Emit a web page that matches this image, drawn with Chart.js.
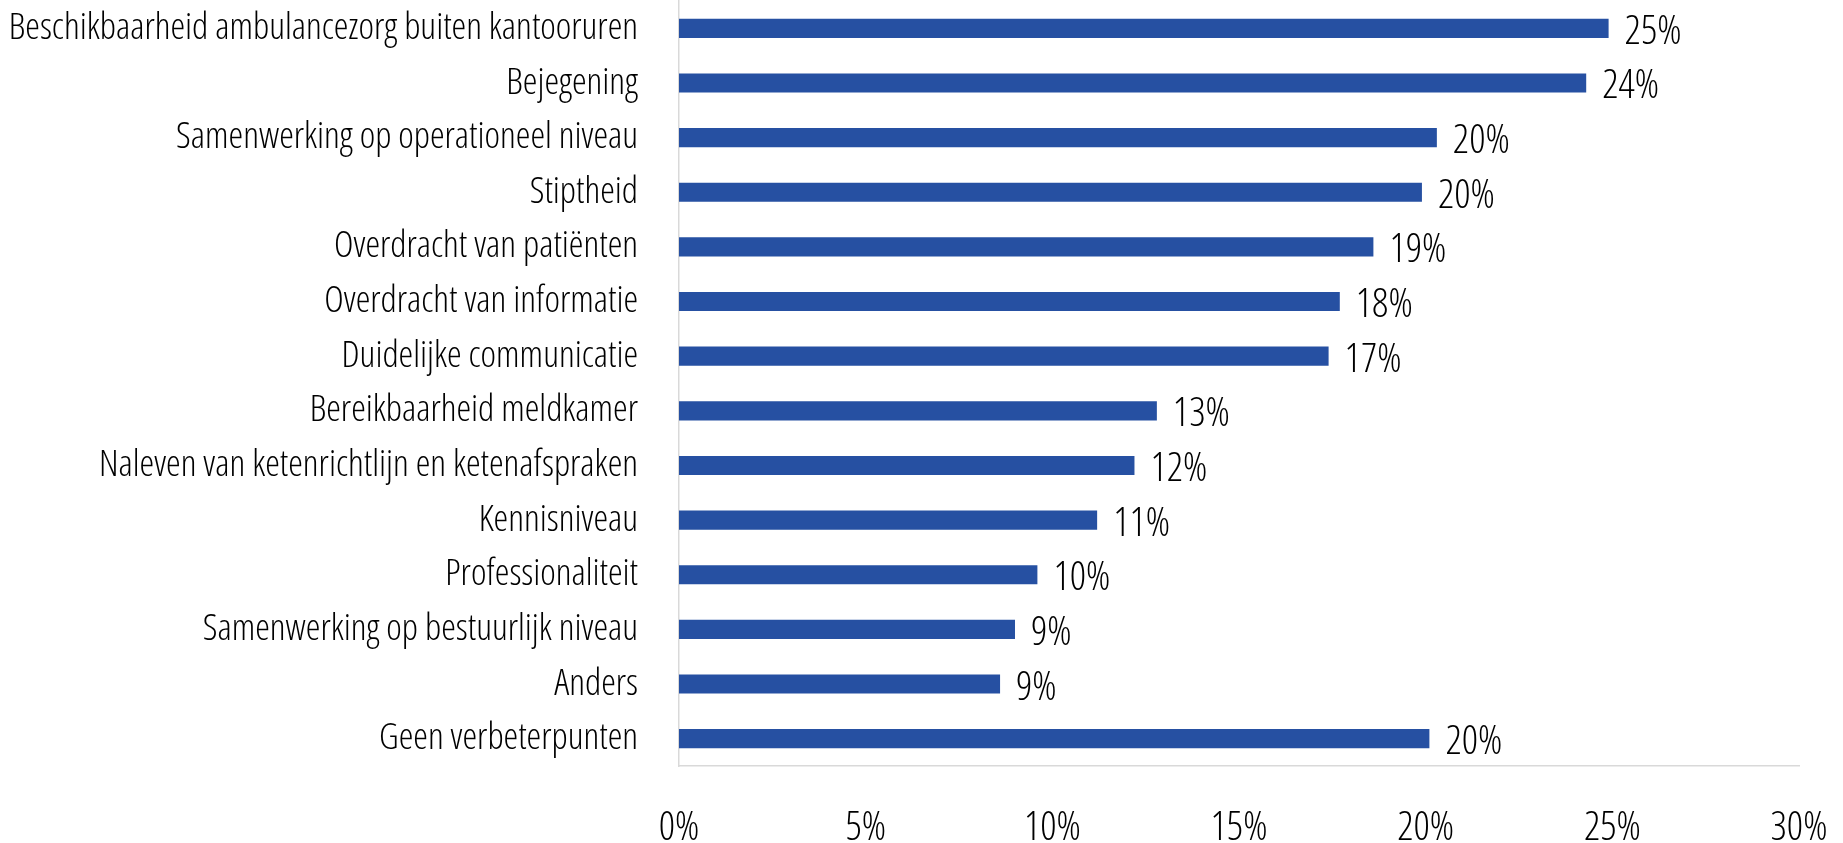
<!DOCTYPE html>
<html>
<head>
<meta charset="utf-8">
<title>Verbeterpunten</title>
<script src="https://cdn.jsdelivr.net/npm/chart.js@4"></script>
<style>
  body { margin: 0; background: #fff; }
</style>
</head>
<body>
<canvas id="barChart" width="1843" height="843"></canvas>
<script>
const categories = [
    "Beschikbaarheid ambulancezorg buiten kantooruren",
    "Bejegening",
    "Samenwerking op operationeel niveau",
    "Stiptheid",
    "Overdracht van patiënten",
    "Overdracht van informatie",
    "Duidelijke communicatie",
    "Bereikbaarheid meldkamer",
    "Naleven van ketenrichtlijn en ketenafspraken",
    "Kennisniveau",
    "Professionaliteit",
    "Samenwerking op bestuurlijk niveau",
    "Anders",
    "Geen verbeterpunten"
];
const percentages = [24.9, 24.3, 20.3, 19.9, 18.6, 17.7, 17.4, 12.8, 12.2, 11.2, 9.6, 9.0, 8.6, 20.1];
const axisTicks = [0, 5, 10, 15, 20, 25, 30];

const categoryFont = { family: "'Open Sans', sans-serif", size: 37, weight: "300 condensed" };
const numberFont = { family: "'Open Sans', sans-serif", size: 40, weight: "300 condensed" };

// percentage text right of each bar
const barLabels = {
    id: "barLabels",
    afterDatasetsDraw(chart) {
        const ctx = chart.ctx;
        const meta = chart.getDatasetMeta(0);
        ctx.save();
        ctx.font = Chart.helpers.toFont(numberFont).string;
        ctx.fillStyle = "#000";
        ctx.textAlign = "left";
        ctx.textBaseline = "alphabetic";
        meta.data.forEach(function (bar, i) {
            ctx.fillText(Math.round(percentages[i]) + "%", bar.x + 16, bar.y + 15.5);
        });
        ctx.restore();
    }
};

// fixed axis sizes, no extra label padding around the plot
function fixSize(width, height) {
    return function (scale) {
        if (width) scale.width = width;
        if (height) scale.height = height;
        scale.paddingTop = 0;
        scale.paddingBottom = 0;
        scale.paddingLeft = 0;
        scale.paddingRight = 0;
    };
}

new Chart(document.getElementById("barChart"), {
    type: "bar",
    data: {
        labels: categories,
        datasets: [{
            data: percentages,
            backgroundColor: "#2650a2",
            borderWidth: 0,
            categoryPercentage: 1,
            barPercentage: 0.35
        }]
    },
    options: {
        indexAxis: "y",
        responsive: false,
        animation: false,
        devicePixelRatio: 1,
        layout: { padding: { top: 1, right: 44, left: 0, bottom: 0 } },
        plugins: {
            legend: { display: false },
            tooltip: { enabled: false }
        },
        scales: {
            x: {
                min: 0,
                max: 30,
                afterBuildTicks: function (scale) {
                    scale.ticks = axisTicks.map(v => ({ value: v }));
                },
                afterFit: fixSize(0, 77),
                grid: { display: false, drawTicks: false },
                border: { display: true, color: "#d9d9d9", width: 1.5 },
                ticks: {
                    font: numberFont,
                    color: "#000",
                    padding: 39,
                    maxRotation: 0,
                    autoSkip: false,
                    callback: v => v + "%"
                }
            },
            y: {
                afterFit: fixSize(679, 0),
                grid: { display: false, drawTicks: false },
                border: { display: true, color: "#d9d9d9", width: 1.5 },
                ticks: {
                    font: categoryFont,
                    color: "#000",
                    padding: 41,
                    autoSkip: false
                }
            }
        }
    },
    plugins: [barLabels]
});
</script>
</body>
</html>
